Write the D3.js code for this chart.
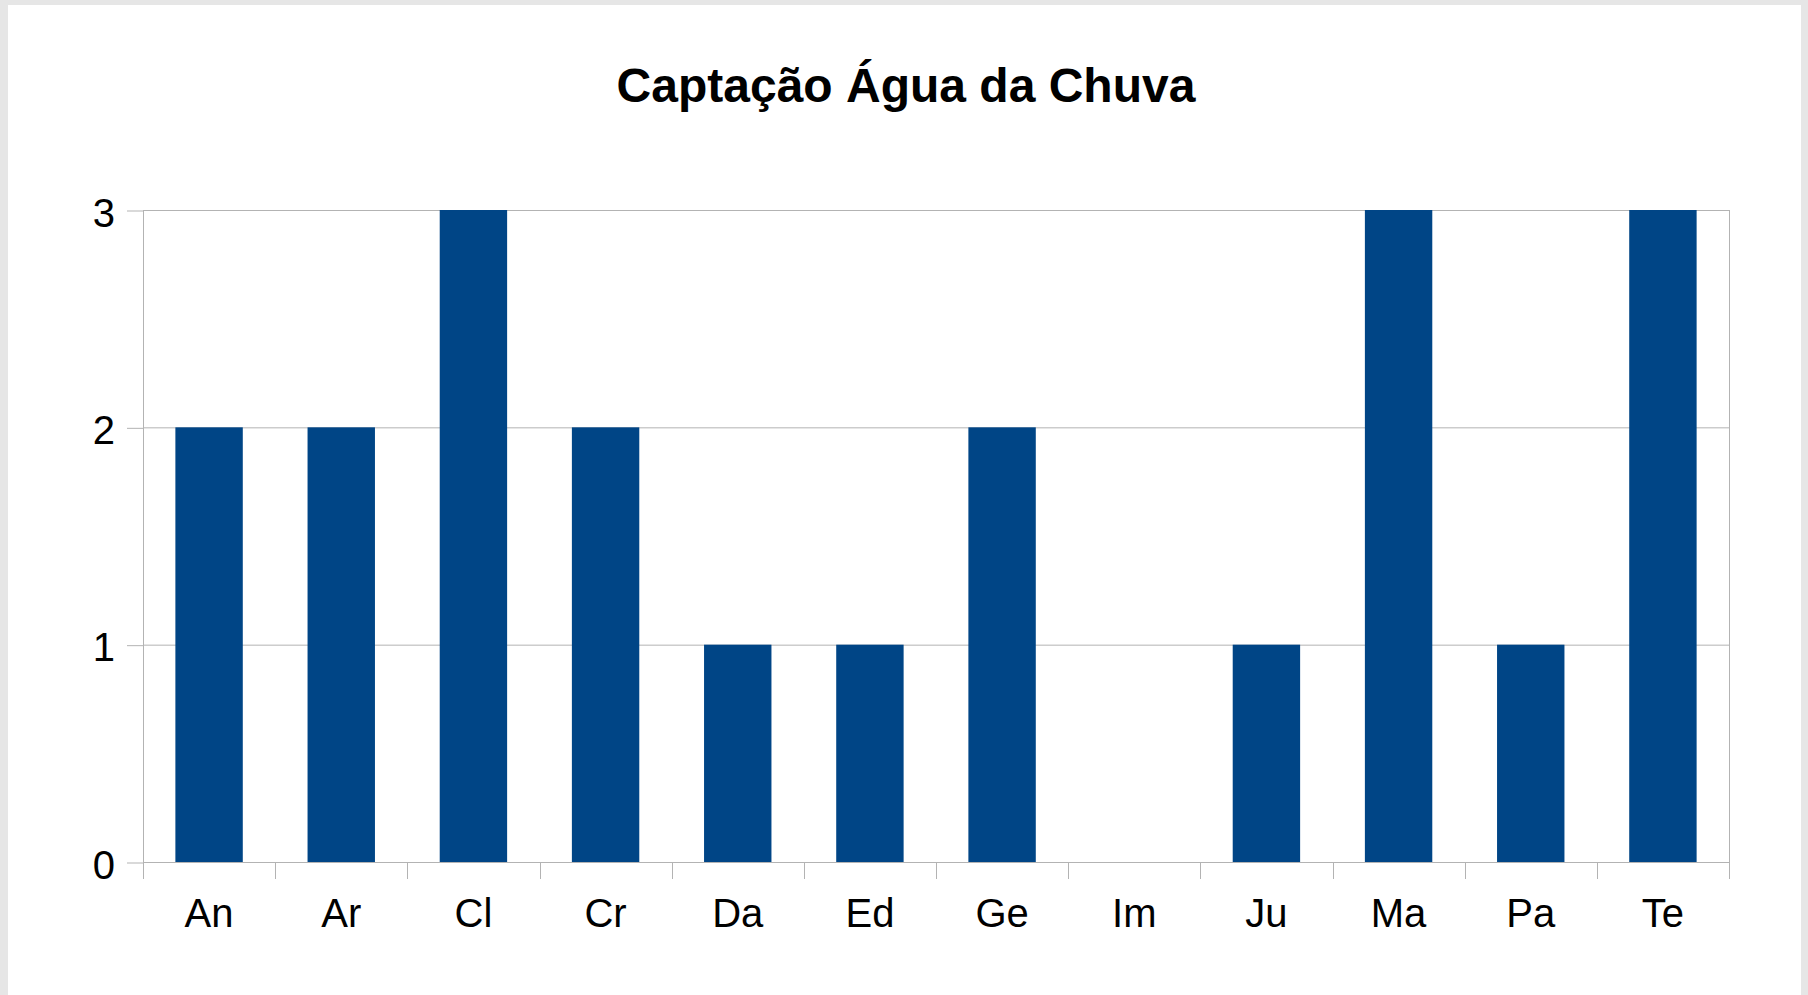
<!DOCTYPE html>
<html>
<head>
<meta charset="utf-8">
<script src="https://cdn.jsdelivr.net/npm/d3@7"></script>
<style>
  html, body { margin: 0; padding: 0; background: #e6e6e6; }
  svg { display: block; }
  text { font-family: "Liberation Sans", Arial, sans-serif; fill: #000; }
</style>
</head>
<body>
<div id="chart"></div>
<script>
// dados do gráfico
var categorias = ["An", "Ar", "Cl", "Cr", "Da", "Ed", "Ge", "Im", "Ju", "Ma", "Pa", "Te"];
var valores = [2, 2, 3, 2, 1, 1, 2, 0, 1, 3, 1, 3];
var ticksY = [0, 1, 2, 3];
var titulo = "Captação Água da Chuva";

var width = 1808, height = 995;
var margin = {top: 210, right: 79, bottom: 133, left: 143};
var w = width - margin.left - margin.right;
var h = height - margin.top - margin.bottom;
var corBarra = "#004586";
var corGrade = "#b3b3b3";

var svg = d3.select("#chart").append("svg")
    .attr("width", width)
    .attr("height", height);

// fundo branco (moldura cinza em volta)
svg.append("rect")
    .attr("x", 8).attr("y", 5)
    .attr("width", width - 15).attr("height", height - 5)
    .attr("fill", "#fff");

svg.append("text")
    .attr("x", 906)
    .attr("y", 102)
    .attr("text-anchor", "middle")
    .style("font-size", "48px")
    .style("font-weight", "bold")
    .text(titulo);

var g = svg.append("g")
    .attr("transform", "translate(" + margin.left + "," + margin.top + ")");

var x = d3.scaleBand()
    .domain(categorias)
    .range([0, w])
    .paddingInner(0.49)
    .paddingOuter(0.245);

var y = d3.scaleLinear()
    .domain([0, 3])
    .range([h, 0]);

// linhas de grade
g.selectAll(".grade")
    .data(ticksY)
    .enter()
    .append("line")
    .attr("class", "grade")
    .attr("x1", 0).attr("x2", w)
    .attr("y1", function(d){ return y(d) + 0.5; })
    .attr("y2", function(d){ return y(d) + 0.5; })
    .attr("stroke", corGrade)
    .attr("stroke-width", 1);

// borda direita
g.append("line")
    .attr("x1", w + 0.5).attr("x2", w + 0.5)
    .attr("y1", 0).attr("y2", h + 17)
    .attr("stroke", corGrade);

// barras
g.selectAll(".barra")
    .data(valores)
    .enter()
    .append("rect")
    .attr("class", "barra")
    .attr("x", function(d, i){ return x(categorias[i]); })
    .attr("width", x.bandwidth())
    .attr("y", function(d){ return y(d); })
    .attr("height", function(d){ return h - y(d); })
    .attr("fill", corBarra);

// eixo Y
var eixoY = g.append("g")
    .call(d3.axisLeft(y).tickValues(ticksY).tickFormat(d3.format("d")).tickSize(16).tickPadding(12));
eixoY.select(".domain").attr("stroke", corGrade).attr("d", "M0.5," + h + "V0");
eixoY.selectAll(".tick line").attr("stroke", corGrade).attr("transform", "translate(0,0.5)");
eixoY.selectAll("text")
    .style("font-size", "40px")
    .attr("dy", "0.4em");

// eixo X
var eixoX = g.append("g")
    .attr("transform", "translate(0," + h + ")")
    .call(d3.axisBottom(x).tickSize(0).tickPadding(37));
eixoX.select(".domain").remove();
eixoX.selectAll("text").style("font-size", "40px");

// marcas entre categorias
var passo = x.step();
g.selectAll(".marca")
    .data(d3.range(categorias.length + 1))
    .enter()
    .append("line")
    .attr("class", "marca")
    .attr("x1", function(d){ return Math.round(d * passo) + 0.5; })
    .attr("x2", function(d){ return Math.round(d * passo) + 0.5; })
    .attr("y1", h).attr("y2", h + 17)
    .attr("stroke", corGrade);
</script>
</body>
</html>
